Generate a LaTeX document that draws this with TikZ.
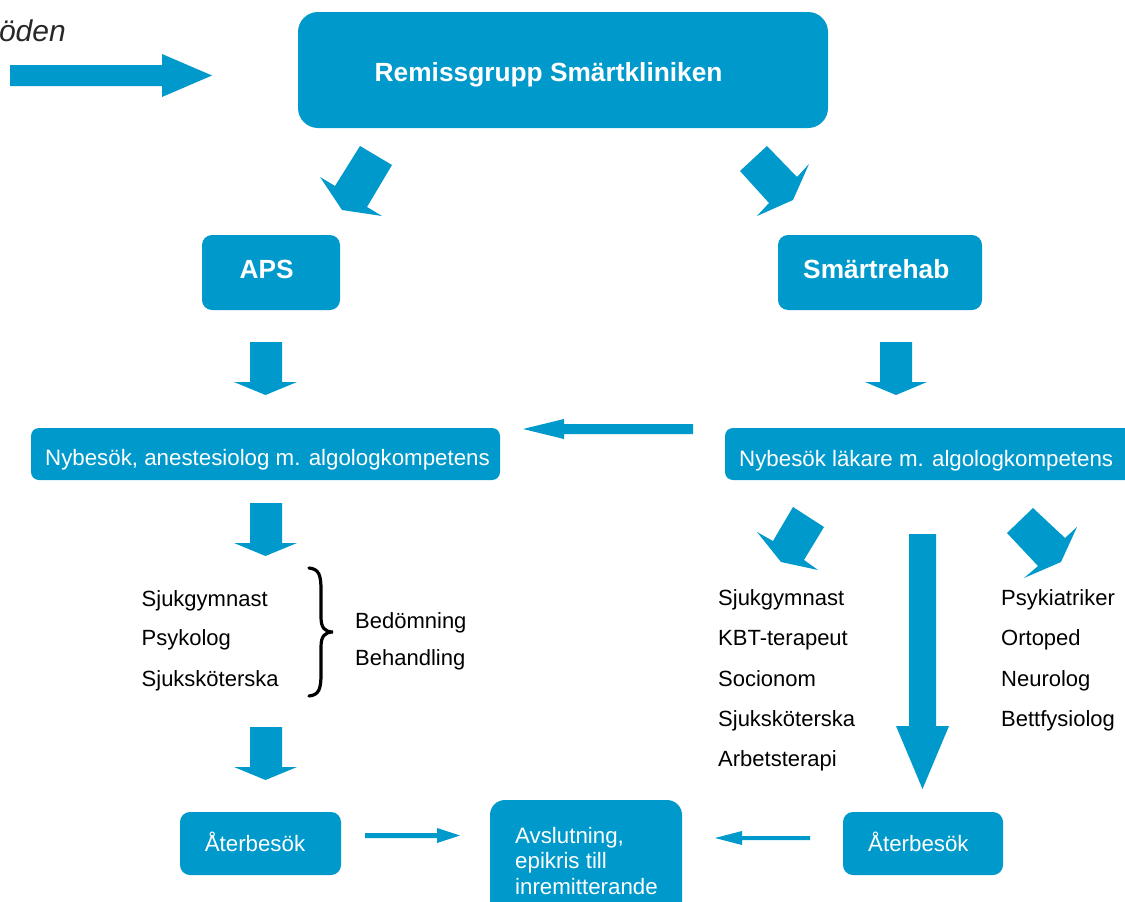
\documentclass[tikz,border=0pt]{standalone}
\usepackage{fontspec}
\setmainfont{Liberation Sans}
\definecolor{brand}{RGB}{0,153,204}
\definecolor{darkgray}{RGB}{40,40,40}
\begin{document}
\begin{tikzpicture}[x=1pt,y=-1pt,
  box/.style={fill=brand,draw=none,inner sep=0pt},
  blk/.style={fill=brand,draw=none},
  wt/.style={text=white,inner sep=0pt,anchor=base west,font=\fontsize{22.3}{26}\selectfont},
  bt/.style={text=white,inner sep=0pt,anchor=base west,font=\fontsize{26.3}{30}\selectfont\bfseries},
  lt/.style={text=black,inner sep=0pt,anchor=base west,font=\fontsize{22}{26}\selectfont}]
\useasboundingbox[fill=white] (0,0) rectangle (1125,902);

% top-left text and arrow
\node[inner sep=0pt,anchor=base east,text=darkgray,font=\fontsize{30}{34}\selectfont\itshape] (flow) at (66,41.5) {öden};
\fill[brand] (10,65) -- (162,65) -- (162,54) -- (212,75.5) -- (162,97) -- (162,86) -- (10,86) -- cycle;

% boxes
\node[box,rounded corners=20pt,minimum width=530pt,minimum height=116pt] (rem) at (563,70) {};
\node[bt] (remt) at (374.5,81.5) {Remissgrupp Smärtkliniken};

\node[box,rounded corners=10pt,minimum width=138pt,minimum height=75pt] (aps) at (271,272.5) {};
\node[bt] (apst) at (239.5,278.3) {APS};

\node[box,rounded corners=10pt,minimum width=204pt,minimum height=75pt] (reh) at (880,272.5) {};
\node[bt] (reht) at (803,278.3) {Smärtrehab};

\node[box,rounded corners=8pt,minimum width=469pt,minimum height=52pt] (nyL) at (265.5,454) {};
\node[wt] (nyLt) at (45,465) {Nybesök, anestesiolog m. algologkompetens};

\node[box,rounded corners=8pt,minimum width=415pt,minimum height=52pt] (nyR) at (932.5,454) {};
\node[wt] (nyRt) at (739,466) {Nybesök läkare m. algologkompetens};

\node[box,rounded corners=10pt,minimum width=161pt,minimum height=63pt] (aterL) at (260.5,843.5) {};
\node[wt] (aterLt) at (204.6,851.5) {Återbesök};

\node[box,rounded corners=15pt,minimum width=192pt,minimum height=120pt] (avs) at (586,860) {};
\node[wt] (avs1) at (515,843) {Avslutning,};
\node[wt] (avs2) at (515,868.5) {epikris till};
\node[wt] (avs3) at (515,894) {inremitterande};

\node[box,rounded corners=10pt,minimum width=160pt,minimum height=63pt] (aterR) at (923,843.5) {};
\node[wt] (aterRt) at (868,851.5) {Återbesök};

% diagonal arrows from top box
\fill[brand] (360,146)--(392,165)--(367,207)--(382,216)--(342,210)--(320,177)--(335,186)--cycle;
\fill[brand] (767,146)--(797,177)--(809,164)--(793,200)--(757,216)--(769,203)--(740,171)--cycle;

% down arrows
\fill[brand] (250,342)--(282,342)--(282,382)--(297,382)--(265.5,395)--(234,382)--(250,382)--cycle;
\fill[brand] (880,342)--(912,342)--(912,382)--(927,382)--(896,395)--(865,382)--(880,382)--cycle;
\fill[brand] (250,503)--(282,503)--(282,543)--(297,543)--(265.5,556)--(234,543)--(250,543)--cycle;
\fill[brand] (250,727)--(282,727)--(282,767)--(297,767)--(265.5,780)--(234,767)--(250,767)--cycle;

% left arrow between Nybesök boxes
\fill[brand] (693,424)--(564,424)--(564,419)--(523,429)--(564,439)--(564,434)--(693,434)--cycle;

% right side diagonal arrows
\fill[brand] (793,507)--(824,527)--(804,560)--(818,570)--(781,562)--(757,532)--(773,541)--cycle;
\fill[brand] (1033,508)--(1065,538)--(1077,527)--(1061,562)--(1024,578)--(1038,566)--(1007,533)--cycle;

% long down arrow
\fill[brand] (909,534)--(936,534)--(936,726)--(949,726)--(922.5,789)--(896,726)--(909,726)--cycle;

% bottom arrows
\fill[brand] (365,833)--(437,833)--(437,828)--(460,835.5)--(437,843)--(437,838)--(365,838)--cycle;
\fill[brand] (810,836)--(742,836)--(742,831)--(715,838)--(742,845)--(742,840)--(810,840)--cycle;

% left list
\node[lt] (l1) at (141.5,606.5) {Sjukgymnast};
\node[lt] (l2) at (141.5,645.5) {Psykolog};
\node[lt] (l3) at (141.5,686.5) {Sjuksköterska};
\node[lt] (b1) at (355,628) {Bedömning};
\node[lt] (b2) at (355,665.5) {Behandling};

% brace
\draw[line width=3.2pt,line cap=round] (309,568) .. controls (319,569) and (321,575) .. (321,590) -- (321,617) .. controls (321,628) and (325,632) .. (333,632) .. controls (325,632) and (321,636) .. (321,647) -- (321,674) .. controls (321,689) and (319,695) .. (309,696);

% right lists
\node[lt] (r1) at (718,605.5) {Sjukgymnast};
\node[lt] (r2) at (718,645.5) {KBT-terapeut};
\node[lt] (r3) at (718,686) {Socionom};
\node[lt] (r4) at (718,726) {Sjuksköterska};
\node[lt] (r5) at (718,766) {Arbetsterapi};

\node[lt] (s1) at (1001,605.5) {Psykiatriker};
\node[lt] (s2) at (1001,645.5) {Ortoped};
\node[lt] (s3) at (1001,686) {Neurolog};
\node[lt] (s4) at (1001,726) {Bettfysiolog};
\end{tikzpicture}
\end{document}
